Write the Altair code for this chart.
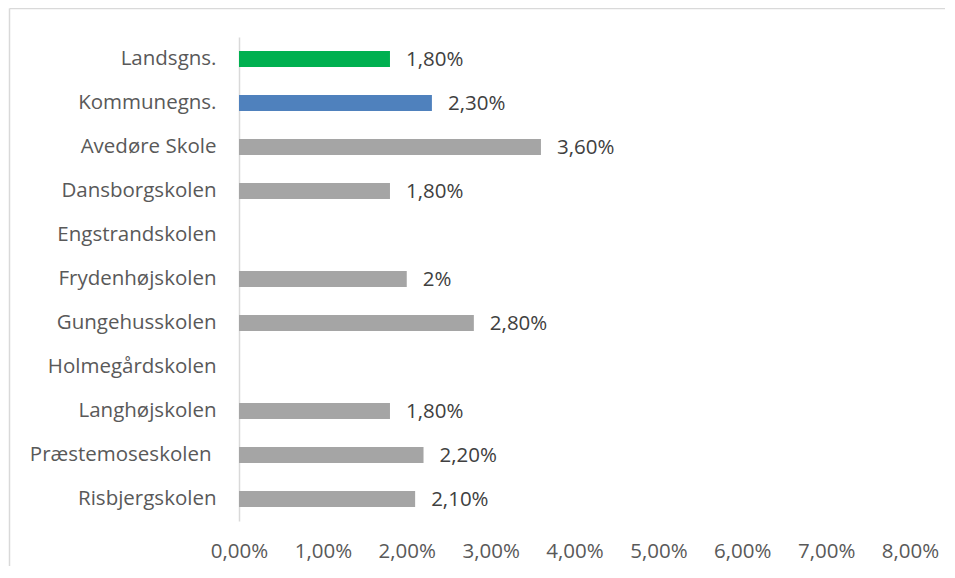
import altair as alt
import pandas as pd

categories = [
    "Landsgns.", "Kommunegns.", "Avedøre Skole", "Dansborgskolen",
    "Engstrandskolen", "Frydenhøjskolen", "Gungehusskolen", "Holmegårdskolen",
    "Langhøjskolen", "Præstemoseskolen", "Risbjergskolen",
]
values = [0.018, 0.023, 0.036, 0.018, None, 0.020, 0.028, None, 0.018, 0.022, 0.021]
labels = ["1,80%", "2,30%", "3,60%", "1,80%", "", "2%", "2,80%", "", "1,80%", "2,20%", "2,10%"]
x_ticks = [0, 0.01, 0.02, 0.03, 0.04, 0.05, 0.06, 0.07, 0.08]

df = pd.DataFrame({"category": categories, "value": values, "label": labels})

FONT = "Open Sans"
FS = 20.5
bar_colors = ["#00B050", "#4F81BD"] + ["#A5A5A5"] * (len(categories) - 2)

y_enc = alt.Y(
    "category:N", sort=categories, title=None,
    scale=alt.Scale(paddingInner=0.64, paddingOuter=0.32),
    axis=alt.Axis(labelFont=FONT, labelFontSize=FS, labelColor="#595959",
                  ticks=False, tickSize=0, labelLimit=400,
                  labelPadding={"condition": {"test": "datum.value == 'Præstemoseskolen'", "value": 28},
                                "value": 23},
                  domainColor="#D9D9D9", domainWidth=1.5, grid=False),
)
x_enc = alt.X(
    "value:Q", title=None,
    scale=alt.Scale(domain=[0, 0.08], nice=False),
    axis=alt.Axis(values=x_ticks, domain=False, ticks=False, tickSize=0, grid=False,
                  labelFont=FONT, labelFontSize=FS, labelColor="#595959",
                  labelPadding=20, labelFlush=False, labelOverlap=False,
                  labelAlign="center",
                  labelExpr="replace(format(datum.value, '.2%'), '.', ',')"),
)

bars = alt.Chart(df).mark_bar().encode(
    x=x_enc, y=y_enc,
    color=alt.Color("category:N", sort=categories, legend=None,
                    scale=alt.Scale(domain=categories, range=bar_colors)),
)

text = alt.Chart(df).mark_text(
    align="left", baseline="middle", dx=16, dy=1,
    font=FONT, fontSize=FS, color="#404040",
).encode(x="value:Q", y=alt.Y("category:N", sort=categories), text="label:N")

frame = alt.Data(values=[{}])
border_top = alt.Chart(frame).mark_rule(color="#D9D9D9", strokeWidth=1.5).encode(
    x=alt.value(-229.5), x2=alt.value(800), y=alt.value(-28.5)
)
border_left = alt.Chart(frame).mark_rule(color="#D9D9D9", strokeWidth=1.5).encode(
    x=alt.value(-229.5), y=alt.value(-28.5), y2=alt.value(600)
)

chart = alt.layer(border_top, border_left, bars, text).properties(
    width=671, height=484,
    autosize=alt.AutoSizeParams(type="none"),
    padding={"left": 231, "top": 29, "right": 35, "bottom": 45},
).configure(
    background="white",
    view=alt.ViewConfig(stroke="transparent", strokeWidth=0),
)

chart.save("out.html", embed_options={"renderer": "svg", "actions": False})
